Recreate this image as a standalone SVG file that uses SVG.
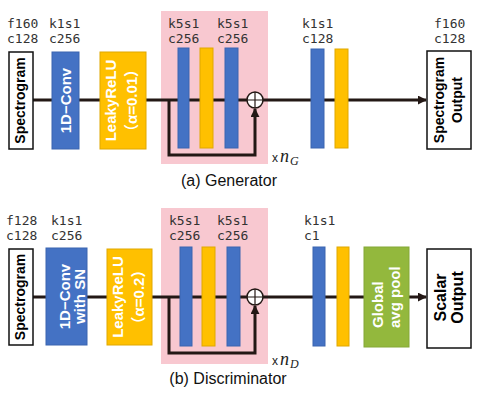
<svg xmlns="http://www.w3.org/2000/svg" width="480" height="396" viewBox="0 0 480 396">
<defs>
<marker id="ah" viewBox="0 0 10 10" refX="9" refY="5" markerWidth="3" markerHeight="3" orient="auto" markerUnits="strokeWidth"><path d="M0,0 L10,5 L0,10 z" fill="#231815"/></marker>
<style>
.lbl{font-family:"DejaVu Sans Mono",monospace;font-size:13px;fill:#333}
.cap{font-family:"Liberation Sans",Arial,sans-serif;font-size:16px;fill:#111}
.bt{font-family:"Liberation Sans","Noto Sans CJK JP",sans-serif;font-weight:bold;font-size:15px;fill:#fff;text-anchor:middle}
.kt{font-family:"Liberation Sans","Noto Sans CJK JP",sans-serif;font-weight:bold;font-size:14px;fill:#000;text-anchor:middle}
.blue{fill:#4472C4;stroke:#3A64B0;stroke-width:1}
.org{fill:#FFC000;stroke:#E0A800;stroke-width:1}
.grn{fill:#93B83D;stroke:#84A836;stroke-width:1}
.wb{fill:#fff;stroke:#111;stroke-width:1.5}
.pink{fill:#F8C8D0}
.ln{stroke:#231815;stroke-width:3;fill:none}
.sum{fill:#fff;stroke:#231815;stroke-width:1.5}
.mx{font-family:"Liberation Sans",sans-serif;font-size:12px;fill:#222}
.mn{font-family:"Liberation Serif",serif;font-style:italic;font-size:18px;fill:#222}
.ms{font-family:"Liberation Serif",serif;font-style:italic;font-size:12px;fill:#222}
</style>
</defs>
<rect class="pink" x="161" y="11" width="107" height="153"/>
<rect class="pink" x="161" y="208" width="107" height="156"/>
<g id="connectors">
<line class="ln" x1="33" y1="100" x2="426" y2="100" marker-end="url(#ah)"/>
<path class="ln" d="M169,100 V155 H255 V109" marker-end="url(#ah)"/>
<line class="ln" x1="33" y1="297" x2="426" y2="297" marker-end="url(#ah)"/>
<path class="ln" d="M169,297 V353 H255 V306" marker-end="url(#ah)"/>
</g>
<g id="g-labels">
<text class="lbl" x="7" y="28">f160</text><text class="lbl" x="7" y="43">c128</text>
<text class="lbl" x="49" y="28">k1s1</text><text class="lbl" x="49" y="43">c256</text>
<text class="lbl" x="168" y="28">k5s1</text><text class="lbl" x="168" y="43">c256</text>
<text class="lbl" x="217" y="28">k5s1</text><text class="lbl" x="217" y="43">c256</text>
<text class="lbl" x="302" y="28">k1s1</text><text class="lbl" x="302" y="43">c128</text>
<text class="lbl" x="434" y="28">f160</text><text class="lbl" x="434" y="43">c128</text>
</g>
<g id="g-input"><rect class="wb" x="9" y="52" width="24" height="97"/><text class="kt" transform="translate(21,100.5) rotate(-90)" y="4">Spectrogram</text></g>
<g id="g-conv"><rect class="blue" x="52" y="52" width="27" height="97"/><text class="bt" transform="translate(65.5,100.5) rotate(-90)" y="5.5">1D−Conv</text></g>
<g id="g-lrelu"><rect class="org" x="100" y="52" width="46" height="97"/><text class="bt" transform="translate(123,100.5) rotate(-90)"><tspan x="0" y="-7">LeakyReLU</tspan><tspan x="0" y="14">（α=0.01）</tspan></text></g>
<g id="g-res1"><rect class="blue" x="178" y="48" width="11" height="100"/></g>
<g id="g-res2"><rect class="org" x="200" y="48" width="13" height="100"/></g>
<g id="g-res3"><rect class="blue" x="225" y="48" width="13" height="100"/></g>
<g id="g-sum"><circle class="sum" cx="255" cy="100" r="8"/><path d="M247,100 H263 M255,92 V108" stroke="#231815" stroke-width="1.2"/></g>
<g id="g-rep"><text class="mx" x="272" y="162">x</text><text class="mn" x="280" y="162">n</text><text class="ms" x="290" y="165">G</text></g>
<g id="g-conv2"><rect class="blue" x="311" y="49" width="13" height="99"/></g>
<g id="g-act2"><rect class="org" x="335" y="49" width="13" height="99"/></g>
<g id="g-output"><rect class="wb" x="427" y="51" width="44" height="98"/><text class="kt" transform="translate(449,100) rotate(-90)"><tspan x="0" y="-5">Spectrogram</tspan><tspan x="0" y="13">Output</tspan></text></g>
<text class="cap" x="229" y="186" text-anchor="middle">(a) Generator</text>

<g id="d-labels">
<text class="lbl" x="6" y="225">f128</text><text class="lbl" x="6" y="240">c128</text>
<text class="lbl" x="51" y="225">k1s1</text><text class="lbl" x="51" y="240">c256</text>
<text class="lbl" x="169" y="225">k5s1</text><text class="lbl" x="169" y="240">c256</text>
<text class="lbl" x="217" y="225">k5s1</text><text class="lbl" x="217" y="240">c256</text>
<text class="lbl" x="304" y="225">k1s1</text><text class="lbl" x="304" y="240">c1</text>
</g>
<g id="d-input"><rect class="wb" x="9" y="249" width="24" height="96"/><text class="kt" transform="translate(21,297) rotate(-90)" y="3.5">Spectrogram</text></g>
<g id="d-conv"><rect class="blue" x="46" y="248" width="41" height="97"/><text class="bt" transform="translate(66.5,296.5) rotate(-90)"><tspan x="0" y="3.5">1D−Conv</tspan><tspan x="0" y="18">with SN</tspan></text></g>
<g id="d-lrelu"><rect class="org" x="107" y="249" width="45" height="96"/><text class="bt" transform="translate(129.5,297) rotate(-90)"><tspan x="0" y="-6.5">LeakyReLU</tspan><tspan x="0" y="14">（α=0.2）</tspan></text></g>
<g id="d-res1"><rect class="blue" x="180" y="247" width="12" height="99"/></g>
<g id="d-res2"><rect class="org" x="202" y="247" width="13" height="99"/></g>
<g id="d-res3"><rect class="blue" x="227" y="247" width="13" height="99"/></g>
<g id="d-sum"><circle class="sum" cx="255" cy="297" r="8"/><path d="M247,297 H263 M255,289 V305" stroke="#231815" stroke-width="1.2"/></g>
<g id="d-rep"><text class="mx" x="272" y="365">x</text><text class="mn" x="280" y="365">n</text><text class="ms" x="290" y="368">D</text></g>
<g id="d-conv2"><rect class="blue" x="313" y="247" width="12" height="99"/></g>
<g id="d-act2"><rect class="org" x="337" y="247" width="12" height="99"/></g>
<g id="d-pool"><rect class="grn" x="364" y="247" width="45" height="100"/><text class="bt" style="text-anchor:start" transform="translate(386.5,297) rotate(-90)"><tspan x="-31" y="-3.5">Global</tspan><tspan x="-31" y="13.5">avg pool</tspan></text></g>
<g id="d-output"><rect class="wb" x="427" y="249" width="44" height="99"/><text class="kt" style="font-size:16px" transform="translate(449,297.5) rotate(-90)"><tspan x="0" y="-3">Scalar</tspan><tspan x="0" y="14">Output</tspan></text></g>
<text class="cap" x="228" y="384" text-anchor="middle">(b) Discriminator</text>
</svg>
